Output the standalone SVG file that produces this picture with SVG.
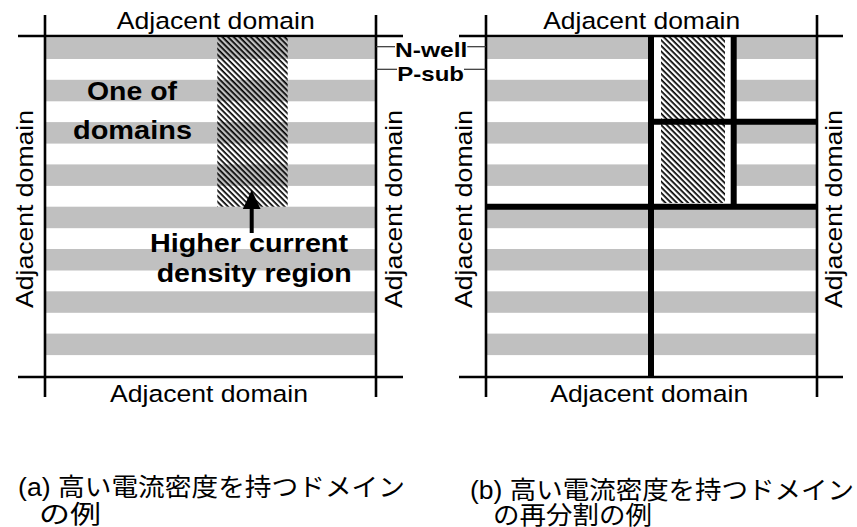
<svg xmlns="http://www.w3.org/2000/svg" width="857" height="527" viewBox="0 0 857 527">
<style>
.frame{stroke:#000;stroke-width:2.6;fill:none}
.thick{stroke:#000;stroke-width:6;fill:none}
.lead{stroke:#333;stroke-width:1.2}
.band{fill:#c0c0c0}
.lbl{font-family:"Liberation Sans",Arial,sans-serif;font-size:24.5px;fill:#000}
.bold{font-family:"Liberation Sans",Arial,sans-serif;font-weight:bold;fill:#000}
.jp{font-family:"Liberation Sans","Noto Sans CJK JP",sans-serif;font-size:25px;fill:#000}
</style>
<defs>
<pattern id="hatch" patternUnits="userSpaceOnUse" width="4" height="4" patternTransform="rotate(45)">
<rect x="0" y="0" width="4" height="1.7" fill="#000"/>
</pattern>
<g id="bands">
<rect class="band" x="0" y="37.5" width="331" height="21.5"/>
<rect class="band" x="0" y="79.8" width="331" height="21.5"/>
<rect class="band" x="0" y="122.1" width="331" height="21.5"/>
<rect class="band" x="0" y="164.4" width="331" height="21.5"/>
<rect class="band" x="0" y="206.7" width="331" height="21.5"/>
<rect class="band" x="0" y="249" width="331" height="21.5"/>
<rect class="band" x="0" y="291.3" width="331" height="21.5"/>
<rect class="band" x="0" y="333.6" width="331" height="21.5"/>
</g>
</defs>
<rect width="857" height="527" fill="#fff"/>

<g id="panel-a">
<use href="#bands" x="45"/>
<rect x="217.3" y="36" width="70.4" height="170.7" fill="url(#hatch)"/>
<line class="frame" x1="18" y1="36" x2="403" y2="36"/>
<line class="frame" x1="18" y1="377" x2="403" y2="377"/>
<line class="frame" x1="45" y1="15" x2="45" y2="397"/>
<line class="frame" x1="376" y1="15" x2="376" y2="397"/>
</g>

<g id="panel-b">
<use href="#bands" x="486"/>
<rect x="654" y="36" width="77" height="167" fill="#fff"/>
<rect x="661" y="36" width="64" height="167" fill="url(#hatch)"/>
<line class="frame" x1="459" y1="36" x2="843" y2="36"/>
<line class="frame" x1="459" y1="377" x2="843" y2="377"/>
<line class="frame" x1="486" y1="15" x2="486" y2="397"/>
<line class="frame" x1="817" y1="15" x2="817" y2="397"/>
</g>

<g id="connectors">
<line class="thick" x1="651" y1="36" x2="651" y2="377"/>
<line class="thick" x1="733.7" y1="36" x2="733.7" y2="206.7"/>
<line class="thick" x1="486" y1="206.7" x2="817" y2="206.7"/>
<line class="thick" x1="651" y1="121.7" x2="817" y2="121.7"/>
<line class="lead" x1="376" y1="46.7" x2="395" y2="46.7"/>
<line class="lead" x1="467.3" y1="46.7" x2="486" y2="46.7"/>
<line class="lead" x1="376" y1="69.3" x2="397" y2="69.3"/>
<line class="lead" x1="464" y1="69.3" x2="486" y2="69.3"/>
<rect x="249.7" y="205" width="4" height="28" fill="#000"/>
<polygon points="251.7,190 242.8,209 260.6,209" fill="#000"/>
</g>

<g id="labels-a">
<text class="lbl" x="215.8" y="29.3" text-anchor="middle" textLength="198" lengthAdjust="spacingAndGlyphs">Adjacent domain</text>
<text class="lbl" x="209" y="401.7" text-anchor="middle" textLength="198" lengthAdjust="spacingAndGlyphs">Adjacent domain</text>
<text class="lbl" transform="translate(33.3,209) rotate(-90)" text-anchor="middle" textLength="198" lengthAdjust="spacingAndGlyphs">Adjacent domain</text>
<text class="lbl" transform="translate(401.7,209) rotate(-90)" text-anchor="middle" textLength="198" lengthAdjust="spacingAndGlyphs">Adjacent domain</text>
<text class="bold" x="87" y="100" font-size="25" textLength="90" lengthAdjust="spacingAndGlyphs">One of</text>
<text class="bold" x="73" y="138.5" font-size="25" textLength="119" lengthAdjust="spacingAndGlyphs">domains</text>
<text class="bold" x="150" y="251.7" font-size="25" textLength="198" lengthAdjust="spacingAndGlyphs">Higher current</text>
<text class="bold" x="156.7" y="281.8" font-size="25" textLength="195" lengthAdjust="spacingAndGlyphs">density region</text>
</g>

<g id="labels-mid">
<text class="bold" x="395" y="57.3" font-size="21" textLength="72.3" lengthAdjust="spacingAndGlyphs">N-well</text>
<text class="bold" x="397.3" y="80.7" font-size="21" textLength="66.7" lengthAdjust="spacingAndGlyphs">P-sub</text>
</g>

<g id="labels-b">
<text class="lbl" x="641.7" y="29.3" text-anchor="middle" textLength="197" lengthAdjust="spacingAndGlyphs">Adjacent domain</text>
<text class="lbl" x="649.2" y="401.7" text-anchor="middle" textLength="198" lengthAdjust="spacingAndGlyphs">Adjacent domain</text>
<text class="lbl" transform="translate(471.7,209) rotate(-90)" text-anchor="middle" textLength="198" lengthAdjust="spacingAndGlyphs">Adjacent domain</text>
<text class="lbl" transform="translate(841.7,209) rotate(-90)" text-anchor="middle" textLength="198" lengthAdjust="spacingAndGlyphs">Adjacent domain</text>
</g>

<g id="caption-a">
<text class="jp" x="18" y="496" textLength="387" lengthAdjust="spacingAndGlyphs">(a) 高い電流密度を持つドメイン</text>
<text class="jp" x="39" y="523" textLength="62" lengthAdjust="spacingAndGlyphs">の例</text>
</g>
<g id="caption-b">
<text class="jp" x="470" y="499" textLength="384" lengthAdjust="spacingAndGlyphs">(b) 高い電流密度を持つドメイン</text>
<text class="jp" x="493" y="523.5" textLength="159" lengthAdjust="spacingAndGlyphs">の再分割の例</text>
</g>
</svg>
